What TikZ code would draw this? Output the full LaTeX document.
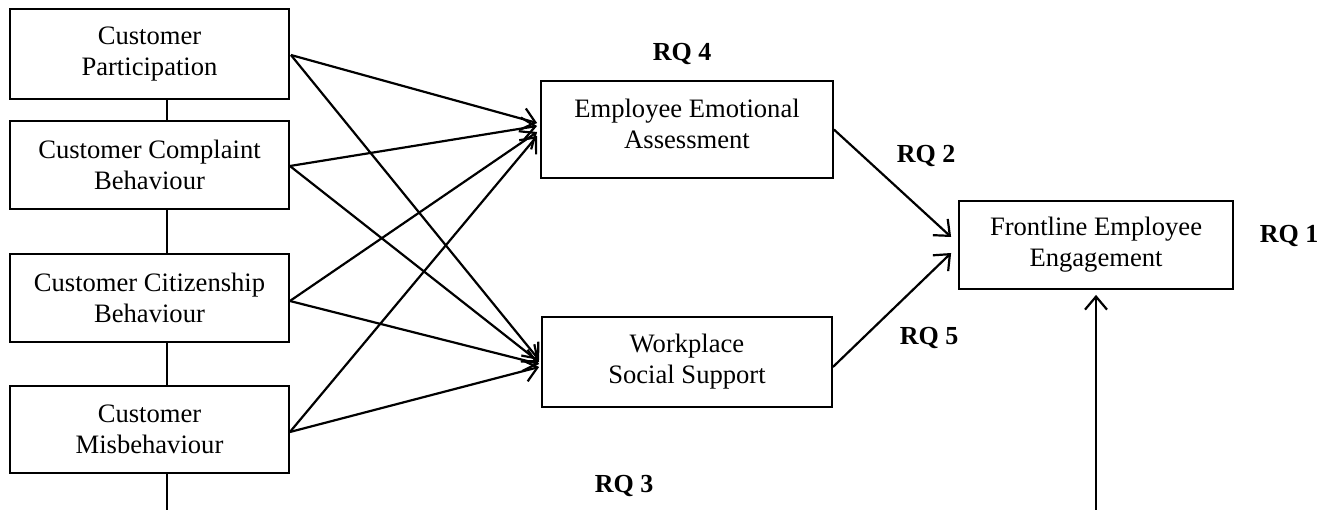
\documentclass[tikz,border=0pt]{standalone}
\usepackage{fontspec}
\setmainfont{Liberation Serif}
\usetikzlibrary{arrows.meta,calc}
\begin{document}
\begin{tikzpicture}[x=1pt,y=-1pt,
  box/.style={draw, line width=1.8pt, align=center, inner sep=0pt,
    font=\fontsize{26.6}{31}\selectfont},
  conn/.style={line width=2.2pt, -{Straight Barb[length=13pt,width=22pt,line width=2.2pt]}},
  rq/.style={font=\fontsize{26}{30}\selectfont\bfseries, anchor=base, inner sep=0pt},
  spine/.style={line width=1.6pt}]
\useasboundingbox (0,0) rectangle (1337,510);

% left column
\node[box, minimum width=279pt, minimum height=90pt] (cp)  at (149.5,54)    {Customer\\Participation};
\node[box, minimum width=279pt, minimum height=88pt] (ccb) at (149.5,165)   {Customer Complaint\\Behaviour};
\node[box, minimum width=279pt, minimum height=88pt] (cci) at (149.5,298)   {Customer Citizenship\\Behaviour};
\node[box, minimum width=279pt, minimum height=87pt] (cm)  at (149.5,429.5) {Customer\\Misbehaviour};

% middle column
\node[box, minimum width=292pt, minimum height=97pt] (eea) at (687,129.5) {Employee Emotional\\Assessment\rule[-12pt]{0pt}{0pt}};
\node[box, minimum width=290pt, minimum height=90pt] (wss) at (687,362)   {Workplace\\Social Support};

% right
\node[box, minimum width=274pt, minimum height=88pt] (fee) at (1096,245) {Frontline Employee\\Engagement};

% labels
\node[rq] (rq4) at (682,61)  {RQ 4};
\node[rq] (rq2) at (926,163) {RQ 2};
\node[rq] (rq5) at (929,344) {RQ 5};
\node[rq] (rq1) at (1289,243) {RQ 1};
\node[rq] (rq3) at (624,492) {RQ 3};

% spine
\coordinate (sp) at (167,0);
\coordinate (spend) at (167,510);
\draw[spine] (cp.south -| sp) -- (ccb.north -| sp);
\draw[spine] (ccb.south -| sp) -- (cci.north -| sp);
\draw[spine] (cci.south -| sp) -- (cm.north -| sp);
\draw[spine] (cm.south -| sp) -- (spend);

% arrows into EEA and WSS
\draw[conn] ($(cp.east)+(1,1)$)    -- ($(eea.west)+(-3,-6.5)$);
\draw[conn] ($(cp.east)+(1,1)$)    -- ($(wss.west)+(-2,-2)$);
\draw[conn] ($(ccb.east)+(0,1)$)   -- ($(eea.west)+(-3,-3.5)$);
\draw[conn] ($(ccb.east)+(0,1)$)   -- ($(wss.west)+(-2,0)$);
\draw[conn] ($(cci.east)+(0,3)$)   -- ($(eea.west)+(-3,2.5)$);
\draw[conn] ($(cci.east)+(0,3)$)   -- ($(wss.west)+(-2,2)$);
\draw[conn] ($(cm.east)+(0,2.5)$)  -- ($(eea.west)+(-3,6.5)$);
\draw[conn] ($(cm.east)+(0,2.5)$)  -- ($(wss.west)+(-2,5)$);

% arrows into FEE
\draw[conn] (eea.east) -- ($(fee.west)+(-7,-8)$);
\draw[conn] ($(wss.east)+(0,5)$) -- ($(fee.west)+(-7,8)$);
\coordinate (feein) at (1096,510);
\draw[conn] (feein) -- ($(fee.south)+(0,5)$);
\end{tikzpicture}
\end{document}
